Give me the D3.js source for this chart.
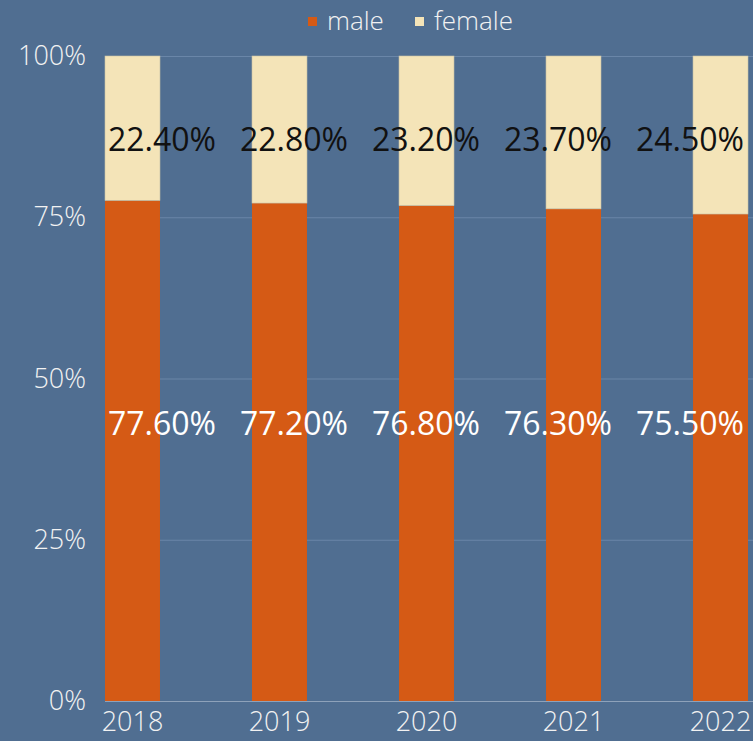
<!DOCTYPE html>
<html lang="en">
<head>
<meta charset="UTF-8">
<title>Male / female share</title>
<script src="https://d3js.org/d3.v7.min.js"></script>
<style>
	body { margin: 0; padding: 0; background: #506e91; overflow: hidden; }
	svg { display: block; font-family: "Open Sans", sans-serif; }
</style>
</head>
<body>
<div id="chart"></div>
<script>
	// data
	const years = ["2018", "2019", "2020", "2021", "2022"];
	const male = [77.6, 77.2, 76.8, 76.3, 75.5];
	const female = [22.4, 22.8, 23.2, 23.7, 24.5];
	const yTicks = [0, 25, 50, 75, 100];

	const colors = { male: "#d55a15", female: "#f4e4b8", bg: "#506e91" };

	const width = 753, height = 741;

	const svg = d3.select("#chart")
		.append("svg")
		.attr("width", width)
		.attr("height", height);

	svg.append("rect")
		.attr("width", width)
		.attr("height", height)
		.attr("fill", colors.bg);

	const x = d3.scaleBand()
		.domain(years)
		.range([105, 748])
		.paddingInner(0.626)
		.paddingOuter(0);

	// data labels are spread a bit wider than the bars
	const xLabel = d3.scalePoint()
		.domain(years)
		.range([162, 690]);

	const y = d3.scaleLinear()
		.domain([0, 100])
		.range([701, 56]);

	// gridlines
	svg.append("g")
		.selectAll("line")
		.data(yTicks)
		.enter().append("line")
		.attr("x1", 105)
		.attr("x2", width)
		.attr("y1", d => y(d) + 0.5)
		.attr("y2", d => y(d) + 0.5)
		.attr("stroke", d => d === 0 ? "#8ea2ba" : "#6a86a8")
		.attr("stroke-width", 1.2);

	// y axis labels
	const yAxis = svg.append("g")
		.attr("transform", "translate(86,0)")
		.call(d3.axisLeft(y).tickValues(yTicks).tickFormat(d => d + "%").tickSize(0).tickPadding(0));
	yAxis.select(".domain").remove();
	yAxis.selectAll("text")
		.attr("fill", "#f2f2f2")
		.attr("font-size", 27)
		.attr("font-weight", 300)
		.attr("font-family", "'Open Sans', sans-serif");

	// x axis labels
	const xAxis = svg.append("g")
		.attr("transform", "translate(0,712)")
		.call(d3.axisBottom(x).tickSize(0).tickPadding(0));
	xAxis.select(".domain").remove();
	xAxis.selectAll("text")
		.attr("fill", "#f2f2f2")
		.attr("font-size", 27)
		.attr("font-weight", 300)
		.attr("font-family", "'Open Sans', sans-serif");

	const rows = years.map((yr, i) => ({ year: yr, male: male[i], female: female[i] }));

	// stacked bars
	const bars = svg.append("g");
	bars.selectAll("rect.male")
		.data(rows)
		.enter().append("rect")
		.attr("class", "male")
		.attr("x", d => x(d.year))
		.attr("width", x.bandwidth())
		.attr("y", d => y(d.male))
		.attr("height", d => y(0) - y(d.male))
		.attr("fill", colors.male);

	bars.selectAll("rect.female")
		.data(rows)
		.enter().append("rect")
		.attr("class", "female")
		.attr("x", d => x(d.year))
		.attr("width", x.bandwidth())
		.attr("y", d => y(d.male + d.female))
		.attr("height", d => y(d.male) - y(d.male + d.female))
		.attr("fill", colors.female)
		.attr("stroke", "#c9c2a6")
		.attr("stroke-width", 0.6);

	// data labels (all at one height per series)
	const labels = svg.append("g")
		.attr("font-size", 32)
		.attr("text-anchor", "middle");

	labels.selectAll("text.f")
		.data(rows)
		.enter().append("text")
		.attr("class", "f")
		.attr("x", d => xLabel(d.year))
		.attr("y", y(87))
		.attr("dy", "0.35em")
		.attr("fill", "#111")
		.text(d => d.female.toFixed(2) + "%");

	labels.selectAll("text.m")
		.data(rows)
		.enter().append("text")
		.attr("class", "m")
		.attr("x", d => xLabel(d.year))
		.attr("y", y(43))
		.attr("dy", "0.35em")
		.attr("fill", "#fff")
		.text(d => d.male.toFixed(2) + "%");

	// legend
	const legendItems = [
		{ name: "male", color: colors.male, x: 308 },
		{ name: "female", color: colors.female, x: 415 }
	];
	const legend = svg.append("g");
	const item = legend.selectAll("g")
		.data(legendItems)
		.enter().append("g")
		.attr("transform", d => "translate(" + d.x + ",0)");
	item.append("rect")
		.attr("y", 17)
		.attr("width", 9)
		.attr("height", 9)
		.attr("fill", d => d.color);
	item.append("text")
		.attr("x", 19)
		.attr("y", 21)
		.attr("dy", "0.35em")
		.attr("fill", "#f2f2f2")
		.attr("font-size", 26)
		.attr("font-weight", 300)
		.text(d => d.name);
</script>
</body>
</html>
